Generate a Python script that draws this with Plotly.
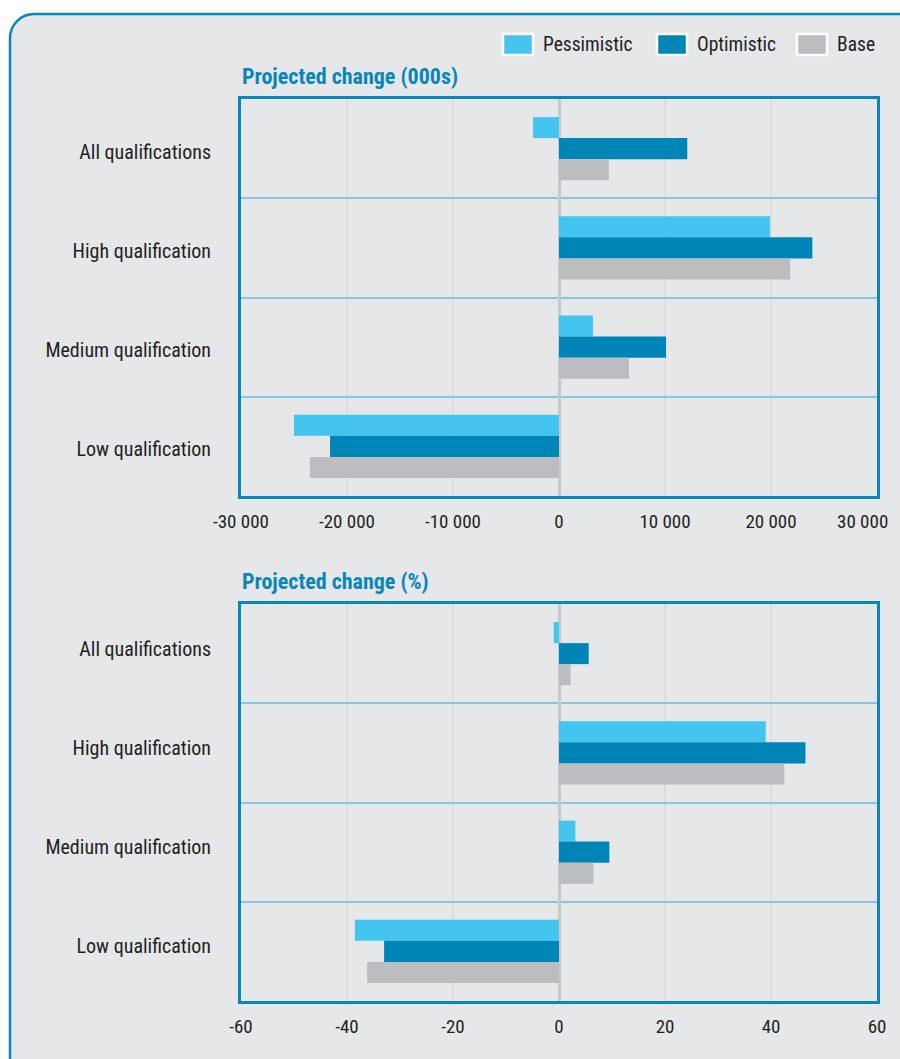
import plotly.graph_objects as go

# ---- data ----
categories = ["All qualifications", "High qualification", "Medium qualification", "Low qualification"]
series = ["Pessimistic", "Optimistic", "Base"]
colors = ["#43c5f0", "#0085b7", "#bcbdc1"]

change_000s = {
    "Pessimistic": [-2450, 19900, 3200, -25000],
    "Optimistic": [12100, 23900, 10100, -21600],
    "Base": [4700, 21800, 6600, -23500],
}
change_pct = {
    "Pessimistic": [-1.0, 39.0, 3.1, -38.5],
    "Optimistic": [5.6, 46.5, 9.5, -33.0],
    "Base": [2.2, 42.5, 6.5, -36.2],
}

ticks_000s = [-30000, -20000, -10000, 0, 10000, 20000, 30000]
ticklabels_000s = ["-30 000", "-20 000", "-10 000", "0", "10 000", "20 000", "30 000"]
ticks_pct = [-60, -40, -20, 0, 20, 40, 60]
ticklabels_pct = ["-60", "-40", "-20", "0", "20", "40", "60"]

titles = ["Projected change (000s)", "Projected change (%)"]

# ---- styling ----
W, H = 900, 1059
FONT = "Liberation Sans Narrow, Roboto Condensed, Arial Narrow, sans-serif"
BLUE = "#0a86b9"
TEXT = "#231f20"

fig = go.Figure()

for i, s in enumerate(series):
    fig.add_trace(go.Bar(
        y=categories, x=change_000s[s], orientation="h", name=s,
        marker=dict(color=colors[i], line=dict(width=0)),
        showlegend=False, xaxis="x", yaxis="y",
    ))
for i, s in enumerate(series):
    fig.add_trace(go.Bar(
        y=categories, x=change_pct[s], orientation="h", name=s,
        marker=dict(color=colors[i], line=dict(width=0)),
        showlegend=False, xaxis="x2", yaxis="y2",
    ))


def px_x(p):
    return p / W


def px_y(p):
    return 1 - p / H


# plot area boxes in pixels
left, right = 241, 877
top1, bot1 = 99, 496
top2, bot2 = 604, 1001


def xaxis_cfg(vals, labels, rng, anchor):
    return dict(
        domain=[px_x(left), px_x(right)], range=rng, anchor=anchor,
        tickmode="array", tickvals=vals, ticktext=labels,
        showgrid=True, gridcolor="#dcdcdd", gridwidth=2,
        zeroline=True, zerolinecolor="#c8c9cb", zerolinewidth=3,
        showline=True, linecolor=BLUE, linewidth=3, mirror=True,
        ticks="", ticklabelstandoff=6, ticklabeloverflow="allow",
        tickfont=dict(family=FONT, size=19, color=TEXT),
        automargin=False, fixedrange=True,
    )


def yaxis_cfg(dom, anchor, shift):
    return dict(
        domain=dom, anchor=anchor, type="category",
        categoryorder="array", categoryarray=categories, autorange="reversed",
        tickson="boundaries", showgrid=True, gridcolor="#86c6e0", gridwidth=1.5,
        showline=True, linecolor=BLUE, linewidth=3, mirror=True,
        ticks="", ticklabelstandoff=23, ticklabelshift=shift, ticklabeloverflow="allow",
        tickfont=dict(family=FONT, size=20, color=TEXT),
        automargin=False, fixedrange=True,
    )


# the right-most label of the top axis is set right-aligned at its tick (below),
# so it stays inside the page
top_labels = ticklabels_000s[:-1] + [""]

fig.update_layout(
    width=W, height=H,
    margin=dict(l=0, r=0, t=0, b=0, pad=0, autoexpand=False),
    paper_bgcolor="white", plot_bgcolor="white",
    barmode="group", bargap=0.365, bargroupgap=0,
    showlegend=False,
    xaxis=xaxis_cfg(ticks_000s, top_labels, [-30000, 30000], "y"),
    yaxis=yaxis_cfg([px_y(bot1), px_y(top1)], "x", -3),
    xaxis2=xaxis_cfg(ticks_pct, ticklabels_pct, [-60, 60], "y2"),
    yaxis2=yaxis_cfg([px_y(bot2), px_y(top2)], "x2", 5),
)

fig.add_annotation(text=ticklabels_000s[-1], x=ticks_000s[-1], xref="x",
                   y=px_y(521), yref="paper", xanchor="right", yanchor="middle",
                   xshift=13, showarrow=False,
                   font=dict(family=FONT, size=19, color=TEXT))

# rounded grey panel behind everything
x0, y0 = px_x(10), px_y(14)
x1, y1 = px_x(960), px_y(1100)
rx, ry = px_x(24), 24 / H
k = 0.45
panel = (
    f"M {x0},{y1} L {x0},{y0 - ry} "
    f"C {x0},{y0 - ry * k} {x0 + rx * k},{y0} {x0 + rx},{y0} "
    f"L {x1},{y0} L {x1},{y1} Z"
)
fig.add_shape(type="path", path=panel, xref="paper", yref="paper",
              fillcolor="#e6e7e9", line=dict(color=BLUE, width=2.5), layer="below")

# panel titles
for t, ytop in zip(titles, [77, 581]):
    fig.add_annotation(text=f"<b>{t}</b>", x=px_x(left - 1), y=px_y(ytop), xref="paper", yref="paper",
                       xanchor="left", yanchor="middle", showarrow=False,
                       font=dict(family=FONT, size=22, color=BLUE))

# legend: white-edged swatches with labels
legend_x = [503, 657, 797]
for s, c, lx in zip(series, colors, legend_x):
    fig.add_shape(type="rect", xref="paper", yref="paper",
                  x0=px_x(lx), x1=px_x(lx + 30), y0=px_y(55), y1=px_y(34),
                  fillcolor=c, line=dict(color="white", width=2.5))
    fig.add_annotation(text=s, x=px_x(lx + 38), y=px_y(45), xref="paper", yref="paper",
                       xanchor="left", yanchor="middle", showarrow=False,
                       font=dict(family=FONT, size=19.5, color=TEXT))

fig.write_html("out.html")
